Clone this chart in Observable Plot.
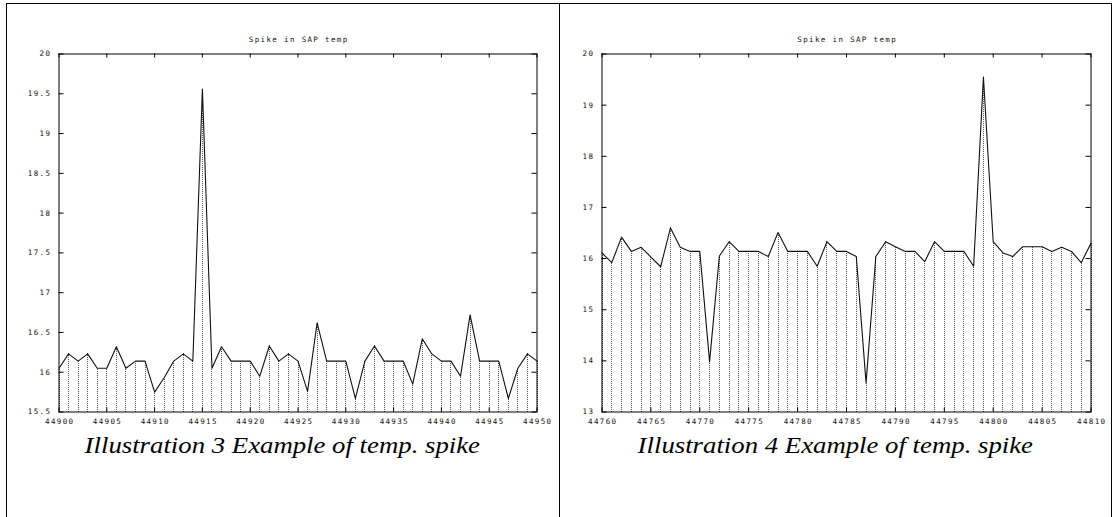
<!DOCTYPE html>
<html>
<head>
<meta charset="utf-8">
<script src="https://cdn.jsdelivr.net/npm/d3@7"></script>
<script src="https://cdn.jsdelivr.net/npm/@observablehq/plot@0.6"></script>
<style>
  html, body { margin: 0; padding: 0; background: #fff; }
  #page { position: relative; width: 1112px; height: 517px; overflow: hidden; background: #fff; }
  .rule { position: absolute; background: #000; }
  .chart { position: absolute; top: 0; }
  .caption {
    position: absolute;
    font-family: "Liberation Serif", "Times New Roman", serif;
    font-style: italic;
    font-size: 24px;
    line-height: 24px;
    text-align: center;
    white-space: nowrap;
    color: #000;
  }
  .caption span { display: inline-block; transform-origin: center; transform: scaleX(1.115); }
</style>
</head>
<body>
<div id="page">
  <div class="rule" style="left:6px;top:3px;width:1106px;height:1px;"></div>
  <div class="rule" style="left:6px;top:3px;width:1px;height:514px;"></div>
  <div class="rule" style="left:559px;top:3px;width:1px;height:514px;"></div>
  <div class="rule" style="left:1111px;top:3px;width:1px;height:514px;"></div>
  <div class="chart" id="chartA" style="left:0px;"></div>
  <div class="chart" id="chartB" style="left:559px;"></div>
  <div class="caption" id="capA" style="left:6px;width:553px;top:433px;"><span>Illustration 3 Example of temp. spike</span></div>
  <div class="caption" id="capB" style="left:559px;width:552px;top:433px;"><span>Illustration 4 Example of temp. spike</span></div>
</div>
<script>
// Sample numbers and SAP temperature readings, first example
const samplesA = [
  44900, 44901, 44902, 44903, 44904, 44905, 44906, 44907, 44908, 44909,
  44910, 44911, 44912, 44913, 44914, 44915, 44916, 44917, 44918, 44919,
  44920, 44921, 44922, 44923, 44924, 44925, 44926, 44927, 44928, 44929,
  44930, 44931, 44932, 44933, 44934, 44935, 44936, 44937, 44938, 44939,
  44940, 44941, 44942, 44943, 44944, 44945, 44946, 44947, 44948, 44949,
  44950
];
const tempA = [
  16.05, 16.23, 16.14, 16.23, 16.05, 16.05, 16.32, 16.05, 16.14, 16.14,
  15.75, 15.93, 16.14, 16.23, 16.14, 19.56, 16.05, 16.32, 16.14, 16.14,
  16.14, 15.95, 16.33, 16.14, 16.23, 16.14, 15.76, 16.62, 16.14, 16.14,
  16.14, 15.67, 16.14, 16.33, 16.14, 16.14, 16.14, 15.85, 16.42, 16.23,
  16.14, 16.14, 15.95, 16.72, 16.14, 16.14, 16.14, 15.67, 16.05, 16.23,
  16.14
];
const xTicksA = [44900, 44905, 44910, 44915, 44920, 44925, 44930, 44935, 44940, 44945, 44950];
const yTicksA = [15.5, 16, 16.5, 17, 17.5, 18, 18.5, 19, 19.5, 20];

// Sample numbers and SAP temperature readings, second example
const samplesB = [
  44760, 44761, 44762, 44763, 44764, 44765, 44766, 44767, 44768, 44769,
  44770, 44771, 44772, 44773, 44774, 44775, 44776, 44777, 44778, 44779,
  44780, 44781, 44782, 44783, 44784, 44785, 44786, 44787, 44788, 44789,
  44790, 44791, 44792, 44793, 44794, 44795, 44796, 44797, 44798, 44799,
  44800, 44801, 44802, 44803, 44804, 44805, 44806, 44807, 44808, 44809,
  44810
];
const tempB = [
  16.11, 15.92, 16.42, 16.14, 16.22, 16.03, 15.84, 16.60, 16.22, 16.14,
  16.14, 13.98, 16.05, 16.33, 16.14, 16.14, 16.14, 16.04, 16.51, 16.14,
  16.14, 16.14, 15.85, 16.33, 16.14, 16.14, 16.04, 13.57, 16.04, 16.33,
  16.23, 16.14, 16.14, 15.94, 16.33, 16.14, 16.14, 16.14, 15.85, 19.55,
  16.33, 16.11, 16.04, 16.23, 16.23, 16.23, 16.14, 16.22, 16.14, 15.92,
  16.30
];
const xTicksB = [44760, 44765, 44770, 44775, 44780, 44785, 44790, 44795, 44800, 44805, 44810];
const yTicksB = [13, 14, 15, 16, 17, 18, 19, 20];

const chartTitle = "Spike in SAP temp";

const HEIGHT = 430;
const MARGIN_TOP = 53.5;
const MARGIN_BOTTOM = 18.5;

function spikeChart({samples, temps, xTicks, yTicks, width, marginLeft, marginRight}) {
  const data = samples.map((s, i) => ({sample: s, temp: temps[i]}));
  const yDomain = [yTicks[0], yTicks[yTicks.length - 1]];
  const xDomain = [xTicks[0], xTicks[xTicks.length - 1]];
  const plotW = width - marginLeft - marginRight;
  const plotH = HEIGHT - MARGIN_TOP - MARGIN_BOTTOM;
  const plain = d => String(d);
  return Plot.plot({
    width,
    height: HEIGHT,
    marginLeft,
    marginRight,
    marginTop: MARGIN_TOP,
    marginBottom: MARGIN_BOTTOM,
    style: {
      fontFamily: "'DejaVu Sans Mono', monospace",
      fontSize: "7.5px",
      letterSpacing: "1.35px",
      color: "#111",
      background: "transparent",
      overflow: "visible"
    },
    x: {domain: xDomain},
    y: {domain: yDomain},
    marks: [
      // dotted impulses from the baseline up to each reading
      Plot.ruleX(data, {x: "sample", y1: yDomain[0], y2: "temp", stroke: "#555", strokeWidth: 1, strokeDasharray: "1,1", shapeRendering: "crispEdges"}),
      Plot.lineY(data, {x: "sample", y: "temp", stroke: "#111", strokeWidth: 1.1}),
      // inward tick marks on all four sides
      Plot.tickY(yTicks, {y: d => d, insetRight: plotW - 5, stroke: "#000"}),
      Plot.tickY(yTicks, {y: d => d, insetLeft: plotW - 5, stroke: "#000"}),
      Plot.tickX(xTicks, {x: d => d, insetBottom: plotH - 4, stroke: "#000"}),
      Plot.tickX(xTicks, {x: d => d, insetTop: plotH - 4, stroke: "#000"}),
      Plot.frame({stroke: "#000"}),
      Plot.axisY(yTicks, {tickSize: 0, tickPadding: 7.7, label: null, tickFormat: plain}),
      Plot.axisX(xTicks, {tickSize: 0, tickPadding: 7, label: null, tickFormat: plain, dx: 0.7}),
      Plot.text([chartTitle], {text: d => d, frameAnchor: "top", dy: -14, lineAnchor: "middle", dx: 0.7})
    ]
  });
}

document.getElementById("chartA").appendChild(spikeChart({
  samples: samplesA, temps: tempA, xTicks: xTicksA, yTicks: yTicksA,
  width: 559, marginLeft: 58.5, marginRight: 22.5
}));
document.getElementById("chartB").appendChild(spikeChart({
  samples: samplesB, temps: tempB, xTicks: xTicksB, yTicks: yTicksB,
  width: 553, marginLeft: 42.5, marginRight: 21.5
}));
</script>
</body>
</html>
